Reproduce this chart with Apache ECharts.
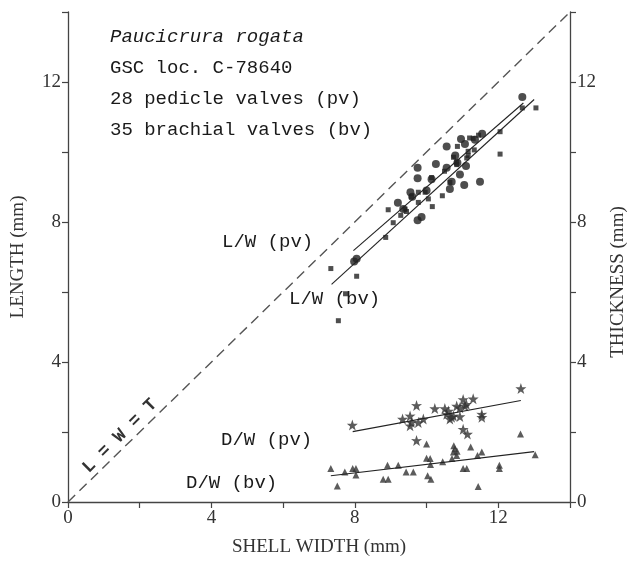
<!DOCTYPE html>
<html>
<head>
<meta charset="utf-8">
<script src="https://cdn.jsdelivr.net/npm/echarts@6/dist/echarts.min.js"></script>
<style>html,body{margin:0;padding:0;background:#fff}#c{width:636px;height:562px}</style>
</head>
<body>
<div id="c"></div>
<script>
// Length vs width, pedicle valves (circles)
const lwPv = [
  [7.98,6.87],[8.05,6.95],[9.2,8.55],[9.35,8.37],[9.55,8.85],[9.6,8.72],[9.75,8.05],
  [9.86,8.14],[9.75,9.25],[9.75,9.55],[10.0,8.9],[10.14,9.22],[10.26,9.66],[10.56,9.55],
  [10.56,10.16],[10.65,8.94],[10.7,9.15],[10.8,9.9],[10.86,9.69],[10.93,9.36],[10.96,10.37],
  [11.05,9.06],[11.07,10.23],[11.1,9.6],[11.35,10.35],[11.49,9.15],[11.55,10.52],[12.67,11.57]
];
// Length vs width, brachial valves (squares)
const lwBv = [
  [7.33,6.67],[7.54,5.18],[7.74,5.95],[8.05,6.45],[8.86,7.56],[9.07,7.98],[8.93,8.35],
  [9.28,8.19],[9.4,8.37],[9.44,8.30],[9.58,8.72],[9.77,8.56],[9.77,8.85],[9.96,8.85],
  [10.05,8.66],[10.16,8.44],[10.14,9.27],[10.44,8.75],[10.5,9.45],[10.65,9.13],[10.75,9.85],
  [10.84,9.64],[10.86,10.16],[10.84,9.71],[11.12,9.83],[11.16,10.02],[11.16,9.9],[11.2,10.4],
  [11.3,10.39],[11.33,10.06],[11.45,10.48],[12.05,9.94],[12.05,10.58],[12.67,11.26],[13.05,11.26]
];
// Thickness vs width, pedicle valves (stars)
const dwPv = [
  [7.93,2.20],[9.33,2.37],[9.54,2.46],[9.54,2.18],[9.58,2.27],[9.72,2.76],[9.72,1.76],
  [9.77,2.27],[9.91,2.37],[10.23,2.67],[10.51,2.67],[10.56,2.51],[10.61,2.60],[10.65,2.37],
  [10.70,2.42],[10.75,2.46],[10.84,2.74],[10.93,2.44],[10.93,2.69],[11.02,2.93],[11.02,2.08],
  [11.07,2.74],[11.11,2.79],[11.14,1.94],[11.30,2.95],[11.54,2.51],[11.54,2.42],[12.63,3.24]
];
// Thickness vs width, brachial valves (triangles)
const dwBv = [
  [7.33,0.96],[7.51,0.46],[7.72,0.86],[7.94,0.96],[8.03,0.96],[8.03,0.77],[8.79,0.65],
  [8.93,0.65],[8.91,1.05],[9.21,1.05],[9.43,0.86],[9.63,0.86],[10.0,1.66],[10.03,0.75],
  [10.12,0.65],[10.10,1.24],[10.11,1.07],[10.0,1.25],[10.45,1.15],[10.71,1.24],[10.75,1.43],
  [10.76,1.61],[10.79,1.52],[10.84,1.33],[10.85,1.45],[11.02,0.96],[11.12,0.96],[11.23,1.57],
  [11.42,1.33],[11.54,1.43],[11.44,0.44],[12.03,1.05],[12.03,0.96],[12.62,1.94],[13.03,1.35]
];
// Fitted lines (endpoints)
const fitLwPv = [[7.96,7.18],[12.7,11.4]];
const fitLwBv = [[7.35,6.22],[13.0,11.5]];
const fitDwPv = [[7.94,2.01],[12.63,2.90]];
const fitDwBv = [[7.33,0.75],[13.0,1.44]];
const identityLine = [[0,0],[14,14]];
const axisMin = 0, axisMax = 14, tickStep = 2, labelStep = 4;

const infoLines = ['GSC loc. C-78640','28 pedicle valves (pv)','35 brachial valves (bv)'];
const speciesName = 'Paucicrura rogata';

const STAR = 'path://M50,0 L61.8,35.1 L97.6,34.5 L69,56.9 L79.4,90.5 L50,70 L20.6,90.5 L31,56.9 L2.4,34.5 L38.2,35.1 Z';
const ink = '#222';
const axisColor = '#444';
const serif = '"Liberation Serif","DejaVu Serif",serif';
const mono = '"Liberation Mono","DejaVu Sans Mono",monospace';

const chart = echarts.init(document.getElementById('c'), null, {renderer:'canvas'});
const fmt = v => (v % labelStep === 0 ? String(v) : '');
const axisCommon = {
  type:'value', min:axisMin, max:axisMax, interval:tickStep,
  splitLine:{show:false},
  axisLine:{show:true, lineStyle:{color:axisColor, width:1.3}},
  axisTick:{show:true, inside:false, length:6, lineStyle:{color:axisColor, width:1.2}},
  axisLabel:{formatter:fmt, color:'#333', fontFamily:serif, fontSize:19, margin:7},
  nameLocation:'middle',
  nameTextStyle:{color:'#333', fontFamily:serif, fontSize:19}
};
chart.setOption({
  animation:false,
  backgroundColor:'#fff',
  grid:{left:68, right:66, top:12, bottom:53, containLabel:false},
  xAxis:Object.assign({}, axisCommon, {name:'SHELL WIDTH (mm)', nameGap:36}),
  yAxis:[
    Object.assign({}, axisCommon, {name:'LENGTH (mm)', nameGap:40, position:'left'}),
    Object.assign({}, axisCommon, {name:'', position:'right'})
  ],
  series:[
    {type:'line', data:identityLine, symbol:'none', silent:true,
     lineStyle:{color:'#555', width:1.4, type:[10,6]}},
    {type:'line', data:fitLwPv, symbol:'none', lineStyle:{color:ink, width:1.1}},
    {type:'line', data:fitLwBv, symbol:'none', lineStyle:{color:ink, width:1.1}},
    {type:'line', data:fitDwPv, symbol:'none', lineStyle:{color:ink, width:1.1}},
    {type:'line', data:fitDwBv, symbol:'none', lineStyle:{color:ink, width:1.1}},
    {type:'scatter', data:lwPv, symbol:'circle', symbolSize:8, itemStyle:{color:ink}},
    {type:'scatter', data:lwBv, symbol:'rect', symbolSize:5, itemStyle:{color:ink}},
    {type:'scatter', data:dwPv, symbol:STAR, symbolSize:11, itemStyle:{color:'#333'}},
    {type:'scatter', data:dwBv, symbol:'triangle', symbolSize:7, itemStyle:{color:'#333'}}
  ],
  graphic:[
    {type:'text', left:110, top:27, style:{text:speciesName, font:'italic 19px '+mono, fill:'#1a1a1a'}},
    {type:'text', left:110, top:58, style:{text:infoLines[0], font:'19px '+mono, fill:'#1a1a1a'}},
    {type:'text', left:110, top:89, style:{text:infoLines[1], font:'19px '+mono, fill:'#1a1a1a'}},
    {type:'text', left:110, top:120, style:{text:infoLines[2], font:'19px '+mono, fill:'#1a1a1a'}},
    {type:'text', left:222, top:232, style:{text:'L/W (pv)', font:'19px '+mono, fill:'#1a1a1a'}},
    {type:'text', left:289, top:289, style:{text:'L/W (bv)', font:'19px '+mono, fill:'#1a1a1a'}},
    {type:'text', left:221, top:430, style:{text:'D/W (pv)', font:'19px '+mono, fill:'#1a1a1a'}},
    {type:'text', left:186, top:473, style:{text:'D/W (bv)', font:'19px '+mono, fill:'#1a1a1a'}},
    {type:'text', x:120, y:436, rotation:Math.PI/4,
     style:{text:'L = W = T', font:'bold 18px '+mono, fill:'#333', align:'center', verticalAlign:'middle'}},
    {type:'text', x:618, y:282, rotation:Math.PI/2,
     style:{text:'THICKNESS (mm)', font:'19px '+serif, fill:'#333', align:'center', verticalAlign:'middle'}}
  ]
});
</script>
</body>
</html>
